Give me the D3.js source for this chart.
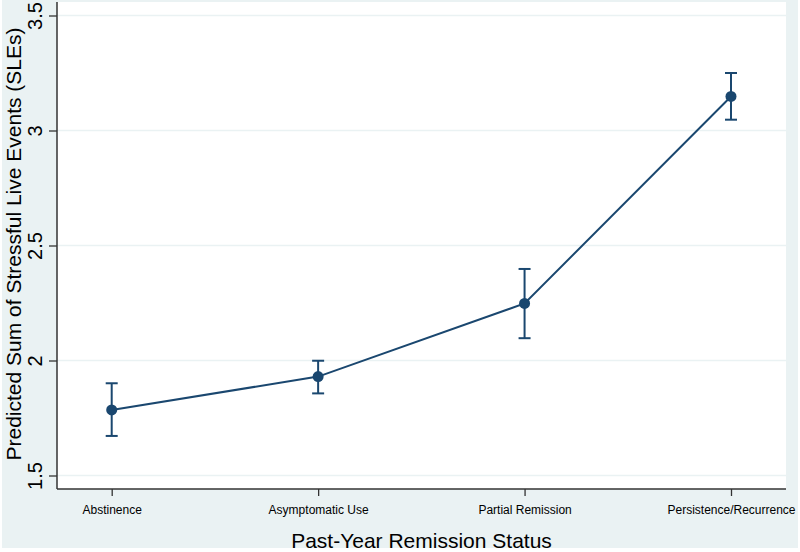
<!DOCTYPE html>
<html><head><meta charset="utf-8">
<script src="https://cdn.jsdelivr.net/npm/d3@7"></script>
<style>body{margin:0;background:#fff}svg{display:block}text{font-family:Arial,"Liberation Sans",sans-serif}</style>
</head><body><svg id="c" width="800" height="552"></svg>
<script>
const categories = ["Abstinence","Asymptomatic Use","Partial Remission","Persistence/Recurrence"];
const predicted = [1.785, 1.93, 2.248, 3.148];
const ciLow = [1.672, 1.857, 2.097, 3.047];
const ciHigh = [1.901, 1.999, 2.398, 3.25];
const yTicks = [1.5, 2, 2.5, 3, 3.5];
const yTitle = "Predicted Sum of Stressful Live Events (SLEs)";
const xTitle = "Past-Year Remission Status";

const svg = d3.select("#c");
const navy = "#1a476f", grid = "#eaf2f3", bg = "#eaf2f3", axisC = "#333";
const L = 57, R = 786, T = 2, B = 489;

svg.append("rect").attr("x",2).attr("y",0).attr("width",796).attr("height",548).attr("fill",bg);
svg.append("rect").attr("x",L).attr("y",T).attr("width",R-L).attr("height",B-T).attr("fill","#fff");

const x = d3.scalePoint().domain(categories).range([111.7, 731]);
const y = d3.scaleLinear().domain([1.5, 3.5]).range([475.5, 15.5]);

// gridlines
svg.append("g").selectAll("line").data(yTicks).join("line")
  .attr("x1",L).attr("x2",R).attr("y1",d=>y(d)).attr("y2",d=>y(d))
  .attr("stroke",grid).attr("stroke-width",1.5);

// y axis
const ya = svg.append("g").attr("transform",`translate(${L},0)`)
  .call(d3.axisLeft(y).tickValues(yTicks).tickSize(8).tickFormat(d3.format("")));
ya.select(".domain").remove();
ya.selectAll(".tick line").attr("stroke",axisC).attr("stroke-width",1.3);
ya.selectAll(".tick text").attr("font-size",20).attr("fill","#000")
  .attr("transform","rotate(-90)").attr("text-anchor","middle")
  .attr("x",0).attr("y",-15).attr("dy","0");
svg.append("line").attr("x1",L).attr("x2",L).attr("y1",T).attr("y2",B).attr("stroke",axisC).attr("stroke-width",1.5);

// x axis
const xa = svg.append("g").attr("transform",`translate(0,${B})`)
  .call(d3.axisBottom(x).tickSize(7).tickSizeOuter(0));
xa.select(".domain").remove();
xa.selectAll(".tick line").attr("stroke",axisC).attr("stroke-width",1.3);
xa.selectAll(".tick text").attr("font-size",12).attr("fill","#000").attr("y",25).attr("dy","0");
svg.append("line").attr("x1",L).attr("x2",R).attr("y1",B).attr("y2",B).attr("stroke",axisC).attr("stroke-width",1.5);

// titles
svg.append("text").attr("transform",`translate(21,244) rotate(-90)`).attr("text-anchor","middle")
  .attr("font-size",21).attr("fill","#000").text(yTitle);
svg.append("text").attr("x",(L+R)/2).attr("y",548).attr("text-anchor","middle")
  .attr("font-size",21).attr("fill","#000").text(xTitle);

// error bars
const data = categories.map((c,i)=>({c, v:predicted[i], lo:ciLow[i], hi:ciHigh[i]}));
const eb = svg.append("g").attr("stroke",navy).attr("stroke-width",2).attr("fill","none");
eb.selectAll(".v").data(data).join("line").attr("x1",d=>x(d.c)).attr("x2",d=>x(d.c)).attr("y1",d=>y(d.lo)).attr("y2",d=>y(d.hi));
eb.selectAll(".t").data(data).join("line").attr("x1",d=>x(d.c)-6).attr("x2",d=>x(d.c)+6).attr("y1",d=>y(d.hi)).attr("y2",d=>y(d.hi));
eb.selectAll(".b").data(data).join("line").attr("x1",d=>x(d.c)-6).attr("x2",d=>x(d.c)+6).attr("y1",d=>y(d.lo)).attr("y2",d=>y(d.lo));

// line
svg.append("path").datum(data).attr("fill","none").attr("stroke",navy).attr("stroke-width",2)
  .attr("d",d3.line().x(d=>x(d.c)).y(d=>y(d.v)));
svg.append("g").selectAll("circle").data(data).join("circle")
  .attr("cx",d=>x(d.c)).attr("cy",d=>y(d.v)).attr("r",5.5).attr("fill",navy);
</script></body></html>
